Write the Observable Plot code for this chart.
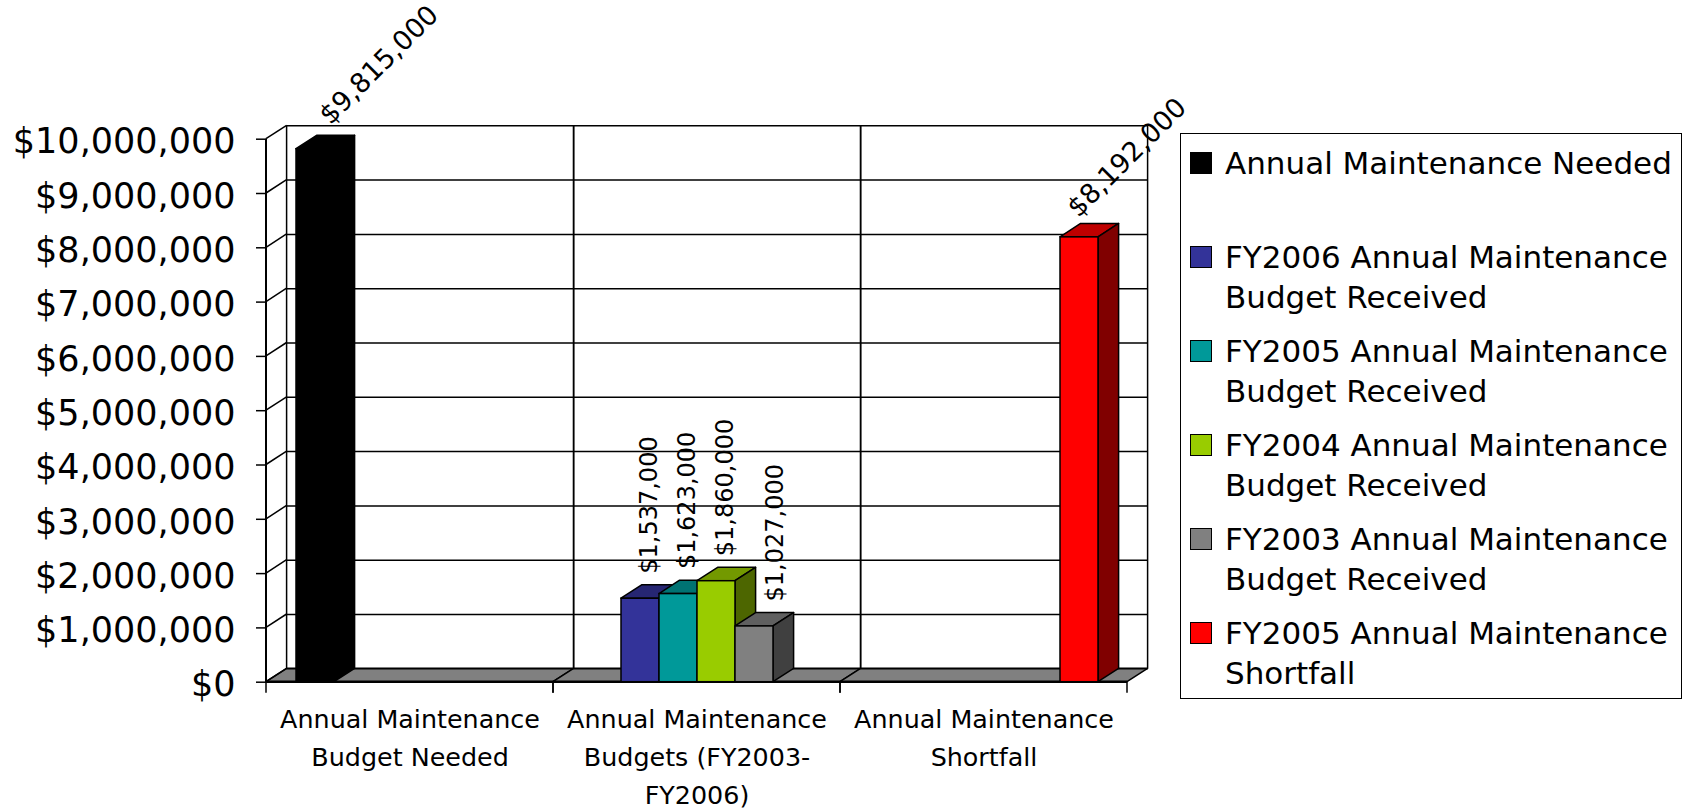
<!DOCTYPE html>
<html>
<head>
<meta charset="utf-8">
<script src="https://cdn.jsdelivr.net/npm/d3@7"></script>
<script src="https://cdn.jsdelivr.net/npm/@observablehq/plot@0.6"></script>
<style>
  html, body { margin: 0; padding: 0; background: #fff; }
  #wrap { position: relative; width: 1694px; height: 810px; overflow: hidden; font-family: "DejaVu Sans", sans-serif; }
  #chart { position: absolute; left: 0; top: 0; }
  #legend { position: absolute; left: 1180px; top: 133px; width: 502px; height: 566px; box-sizing: border-box; border: 1.5px solid #000; background: #fff; }
  .item { position: absolute; left: 0; width: 100%; height: 79px; }
  .sw { position: absolute; left: 9px; top: 8px; width: 20px; height: 20px; border: 1.5px solid #000; }
  .lt { position: absolute; left: 44px; top: 0; width: 452px; font-size: 31px; line-height: 39.5px; color: #000; }
</style>
</head>
<body>
<div id="wrap"><div id="chart"></div><div id="legend"></div></div>
<script>
// ---------- data ----------
const categories = [
  "Annual Maintenance Budget Needed",
  "Annual Maintenance Budgets (FY2003-FY2006)",
  "Annual Maintenance Shortfall"
];
const categoryTickLabels = [
  "Annual Maintenance\nBudget Needed",
  "Annual Maintenance\nBudgets (FY2003-\nFY2006)",
  "Annual Maintenance\nShortfall"
];
const seriesNames = [
  "Annual Maintenance Needed",
  "FY2006 Annual Maintenance Budget Received",
  "FY2005 Annual Maintenance Budget Received",
  "FY2004 Annual Maintenance Budget Received",
  "FY2003 Annual Maintenance Budget Received",
  "FY2005 Annual Maintenance Shortfall"
];
const seriesColors = ["#000000", "#333399", "#009999", "#99CC00", "#808080", "#FF0000"];
const maintenanceNeeded = [9815000, null, null];
const fy2006Received   = [null, 1537000, null];
const fy2005Received   = [null, 1623000, null];
const fy2004Received   = [null, 1860000, null];
const fy2003Received   = [null, 1027000, null];
const fy2005Shortfall  = [null, null, 8192000];
const yTicks = [0, 1000000, 2000000, 3000000, 4000000, 5000000, 6000000, 7000000, 8000000, 9000000, 10000000];

const seriesValues = [maintenanceNeeded, fy2006Received, fy2005Received, fy2004Received, fy2003Received, fy2005Shortfall];
const table = [];
seriesNames.forEach((s, si) => seriesValues[si].forEach((v, ci) => {
  if (v != null) table.push({series: s, category: categories[ci], value: v});
}));

// ---------- 3D helpers ----------
const DX = 20.6, DY = 13.4;
const money = d3.format("$,");
function shade(hex, k) {
  const c = d3.rgb(hex);
  return d3.rgb(c.r * k, c.g * k, c.b * k).formatHex();
}

// walls, floor and category ticks, drawn per facet
class Frame3D extends Plot.Mark {
  constructor(data, options = {}) {
    super(data, {}, options, undefined);
  }
  render(index, scales) {
    const {x, y} = scales;
    const [L, R] = x.range();
    const Y0 = y(0), YT = y(10000000);
    const g = d3.create("svg:g");
    g.append("path")
      .attr("d", `M${L},${Y0}L${R},${Y0}L${R + DX},${Y0 - DY}L${L + DX},${Y0 - DY}Z`)
      .attr("fill", "#808080").attr("stroke", "#000").attr("stroke-width", 1.5).attr("stroke-linejoin", "round");
    g.append("line").attr("x1", L).attr("x2", R).attr("y1", Y0).attr("y2", Y0)
      .attr("stroke", "#000").attr("stroke-width", 2.5);
    for (const xx of [L + DX, R + DX]) {
      g.append("line").attr("x1", xx).attr("x2", xx).attr("y1", Y0 - DY).attr("y2", YT - DY)
        .attr("stroke", "#000").attr("stroke-width", 1.5);
    }
    for (const xx of [L, R]) {
      g.append("line").attr("x1", xx).attr("x2", xx).attr("y1", Y0).attr("y2", Y0 + 11)
        .attr("stroke", "#000").attr("stroke-width", 1.5);
    }
    if (Array.from(index).includes(0)) {
      g.append("line").attr("x1", L).attr("x2", L).attr("y1", Y0).attr("y2", YT)
        .attr("stroke", "#000").attr("stroke-width", 2);
      for (const t of yTicks) {
        g.append("line").attr("x1", L).attr("x2", L + DX).attr("y1", y(t)).attr("y2", y(t) - DY)
          .attr("stroke", "#000").attr("stroke-width", 1.5);
      }
    }
    return g.node();
  }
}

// top and side faces of each bar
class Bar3D extends Plot.Mark {
  constructor(data, options = {}) {
    const {x, y} = options;
    super(data, {
      x: {value: x, scale: "x", type: "band"},
      y: {value: y, scale: "y"}
    }, options, undefined);
  }
  render(index, scales, channels) {
    const X = channels.x, Y = channels.y;
    const bw = scales.x.bandwidth();
    const y0 = scales.y(0);
    const g = d3.create("svg:g");
    for (const i of index) {
      const d = this.data[i];
      const base = seriesColors[seriesNames.indexOf(d.series)];
      const x0 = X[i], x1 = X[i] + bw, yt = Y[i];
      g.append("path")
        .attr("d", `M${x0},${yt}L${x0 + DX},${yt - DY}L${x1 + DX},${yt - DY}L${x1},${yt}Z`)
        .attr("fill", shade(base, 0.75)).attr("stroke", "#000").attr("stroke-width", 1.5).attr("stroke-linejoin", "round");
      g.append("path")
        .attr("d", `M${x1},${yt}L${x1 + DX},${yt - DY}L${x1 + DX},${y0 - DY}L${x1},${y0}Z`)
        .attr("fill", shade(base, 0.5)).attr("stroke", "#000").attr("stroke-width", 1.5).attr("stroke-linejoin", "round");
    }
    return g.node();
  }
}

const labelOpts = {fx: "category", x: "series", y: "value", text: d => money(d.value), textAnchor: "start", fill: "#000"};

const chart = Plot.plot({
  width: 1180,
  height: 810,
  marginLeft: 266,
  marginRight: 52.3,
  marginTop: 138.7,
  marginBottom: 128.3,
  style: {fontFamily: '"DejaVu Sans", sans-serif', background: "transparent", color: "#000", overflow: "visible"},
  fx: {domain: categories, padding: 0},
  x: {type: "band", domain: seriesNames, paddingInner: 0, paddingOuter: 0.72, axis: null},
  y: {domain: [0, 10000000]},
  color: {domain: seriesNames, range: seriesColors},
  marks: [
    new Frame3D(categories, {fx: d => d}),
    Plot.ruleY(yTicks, {dx: DX, dy: -DY, stroke: "#000", strokeWidth: 1.5}),
    new Bar3D(table, {fx: "category", x: "series", y: "value"}),
    Plot.barY(table, {fx: "category", x: "series", y: "value", fill: "series", stroke: "#000", strokeWidth: 1.5}),
    Plot.axisY(yTicks, {tickSize: 10, tickFormat: () => "", label: null, strokeWidth: 1.5}),
    Plot.axisY(yTicks, {tickSize: 0, tickPadding: 31, dy: 3, tickFormat: money, fontSize: 35, label: null}),
    Plot.axisFx({anchor: "bottom", tickSize: 0, tickPadding: 19, fontSize: 25.4, lineHeight: 1.496, label: null,
      tickFormat: d => categoryTickLabels[categories.indexOf(d)]}),
    Plot.text(table.filter(d => d.series === seriesNames[0]), {...labelOpts, rotate: -45, fontSize: 27, dx: 9, dy: -29.5}),
    Plot.text(table.filter(d => d.series === seriesNames[5]), {...labelOpts, rotate: -45, fontSize: 27, dx: -7, dy: -25}),
    Plot.text(table.filter(d => d.category === categories[1] && d.series !== seriesNames[4]), {...labelOpts, rotate: -90, fontSize: 24, dx: 8.5, dy: -25}),
    Plot.text(table.filter(d => d.series === seriesNames[4]), {...labelOpts, rotate: -90, fontSize: 24, dx: 21, dy: -25})
  ]
});
document.getElementById("chart").appendChild(chart);

// ---------- legend ----------
const legend = document.getElementById("legend");
seriesNames.forEach((name, i) => {
  const item = document.createElement("div");
  item.className = "item";
  item.style.top = (10 + i * 94) + "px";
  const sw = document.createElement("div");
  sw.className = "sw";
  sw.style.background = seriesColors[i];
  const lt = document.createElement("div");
  lt.className = "lt";
  lt.textContent = name;
  item.appendChild(sw);
  item.appendChild(lt);
  legend.appendChild(item);
});
</script>
</body>
</html>
